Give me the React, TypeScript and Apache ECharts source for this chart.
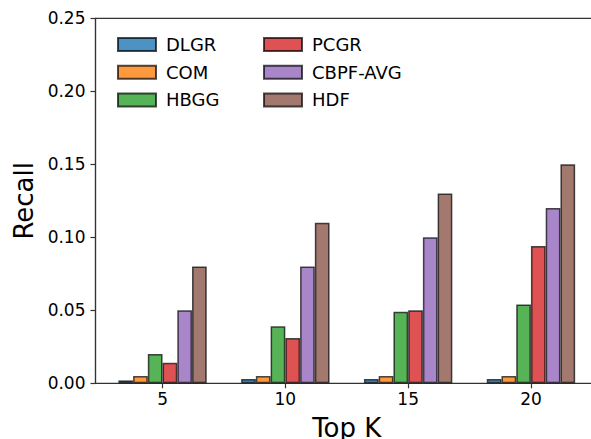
import React, { useEffect, useRef } from "react";
import * as echarts from "echarts";

const topK = [5, 10, 15, 20];
const seriesNames = ["DLGR", "COM", "HBGG", "PCGR", "CBPF-AVG", "HDF"];
const dlgr = [0.002, 0.003, 0.003, 0.003];
const com = [0.005, 0.005, 0.005, 0.005];
const hbgg = [0.02, 0.039, 0.049, 0.054];
const pcgr = [0.014, 0.031, 0.05, 0.094];
const cbpfAvg = [0.05, 0.08, 0.1, 0.12];
const hdf = [0.08, 0.11, 0.13, 0.15];
const yTicks = [0, 0.05, 0.1, 0.15, 0.2, 0.25];

const seriesValues = [dlgr, com, hbgg, pcgr, cbpfAvg, hdf];
const colors = ["#4c92c3", "#ff993e", "#56b356", "#de5253", "#a985ca", "#a3786f"];

const FONT = "DejaVu Sans";

export default function App() {
  const ref = useRef<HTMLDivElement>(null);
  useEffect(() => {
    document.body.style.margin = "0";
    const chart = echarts.init(ref.current!, null, { renderer: "svg" });
    const pxPerUnit = 24.56;
    const legendCommon = {
      orient: "vertical",
      top: 30.5,
      itemWidth: 38,
      itemHeight: 13,
      itemGap: 9.7,
      icon: "rect",
      textStyle: { fontFamily: FONT, fontSize: 18, color: "#000", lineHeight: 18, padding: [0, 0, 0, 5] },
    };
    const option: any = {
      animation: false,
      backgroundColor: "#fff",
      textStyle: { fontFamily: FONT },
      grid: {
        left: 95.5,
        top: 18.3,
        width: 502.5,
        height: 365,
        show: true,
        borderColor: "#333",
        borderWidth: 1.2,
        backgroundColor: "transparent",
        containLabel: false,
        outerBoundsMode: "none",
      },
      legend: [
        { ...legendCommon, data: seriesNames.slice(0, 3), left: 112 },
        { ...legendCommon, data: seriesNames.slice(3), left: 258 },
      ],
      xAxis: {
        type: "value",
        min: 2.27,
        max: 22.73,
        name: "Top K",
        nameLocation: "middle",
        nameGap: 32,
        nameTextStyle: { fontFamily: FONT, fontSize: 26, color: "#000" },
        axisLine: { show: true, lineStyle: { color: "#333", width: 1.2 } },
        axisTick: { show: true, length: 5, customValues: topK, lineStyle: { color: "#333", width: 1.2 } },
        axisLabel: { customValues: topK, fontFamily: FONT, fontSize: 17, color: "#000", margin: 7 },
        splitLine: { show: false },
      },
      yAxis: {
        type: "value",
        min: 0,
        max: 0.25,
        interval: 0.05,
        name: "Recall",
        nameLocation: "middle",
        nameGap: 58,
        nameTextStyle: { fontFamily: FONT, fontSize: 26, color: "#000" },
        axisLine: { show: true, lineStyle: { color: "#333", width: 1.2 } },
        axisTick: { show: true, length: 5, customValues: yTicks, lineStyle: { color: "#333", width: 1.2 } },
        axisLabel: {
          customValues: yTicks,
          fontFamily: FONT,
          fontSize: 17,
          color: "#000",
          margin: 10,
          formatter: (v: number) => v.toFixed(2),
        },
        splitLine: { show: false },
      },
      series: seriesNames.map((name, i) => ({
        name,
        type: "bar",
        barWidth: 0.6 * pxPerUnit,
        barGap: "0%",
        data: topK.map((k, j) => [k, seriesValues[i][j]]),
        itemStyle: {
          color: colors[i],
          borderColor: "rgba(0,0,0,0.7)",
          borderWidth: 1.5,
        },
      })),
    };
    chart.setOption(option);
    return () => chart.dispose();
  }, []);
  return <div ref={ref} style={{ width: 591, height: 439 }} />;
}
